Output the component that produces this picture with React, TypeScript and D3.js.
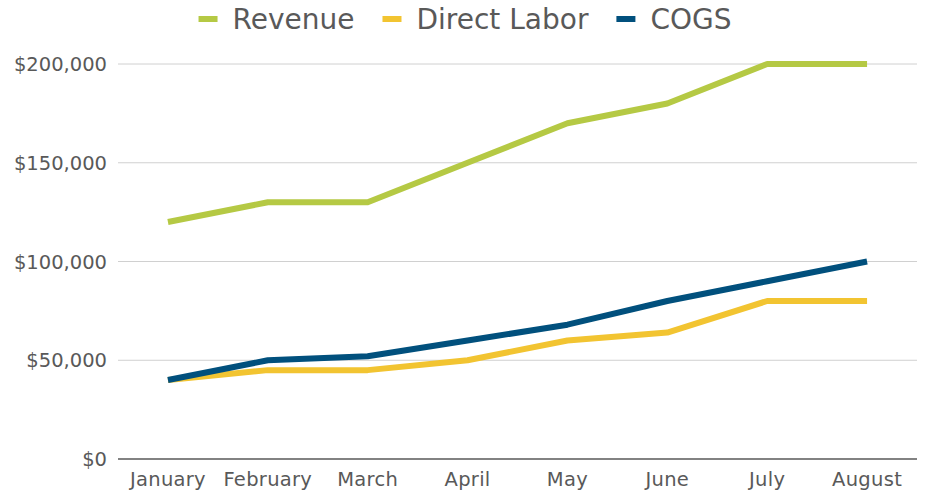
import React, { useEffect, useRef } from 'react';
import * as d3 from 'd3';

const months = ['January', 'February', 'March', 'April', 'May', 'June', 'July', 'August'];
const revenue = [120000, 130000, 130000, 150000, 170000, 180000, 200000, 200000];
const directLabor = [40000, 45000, 45000, 50000, 60000, 64000, 80000, 80000];
const cogs = [40000, 50000, 52000, 60000, 68000, 80000, 90000, 100000];
const yTicks = [0, 50000, 100000, 150000, 200000];

const seriesList = [
    { name: 'Revenue', values: revenue, color: '#b5c944' },
    { name: 'Direct Labor', values: directLabor, color: '#f2c431' },
    { name: 'COGS', values: cogs, color: '#01507d' },
];

const W = 928;
const H = 493;

const App = () => {
    const svgRef = useRef<SVGSVGElement>(null);

    useEffect(() => {
        if (!svgRef.current) return;
        const svg = d3.select(svgRef.current);
        svg.selectAll('*').remove();

        const font = '"DejaVu Sans", Verdana, sans-serif';
        const margin = { top: 64, right: 11, bottom: 34, left: 118 };
        const chartW = W - margin.left - margin.right;
        const chartH = H - margin.top - margin.bottom;

        const x = d3.scaleBand().domain(months).range([0, chartW]);
        const y = d3.scaleLinear().domain([0, 200000]).range([chartH, 0]);

        const g = svg.append('g').attr('transform', `translate(${margin.left},${margin.top})`);

        // grid
        g.selectAll('.grid')
            .data(yTicks)
            .enter()
            .append('line')
            .attr('x1', 0)
            .attr('x2', chartW)
            .attr('y1', d => y(d))
            .attr('y2', d => y(d))
            .attr('stroke', d => (d === 0 ? '#595959' : '#d0d0d0'))
            .attr('stroke-width', d => (d === 0 ? 1.5 : 1));

        // y labels
        const fmt = d3.format('$,.0f');
        g.selectAll('.ylab')
            .data(yTicks)
            .enter()
            .append('text')
            .attr('x', -11)
            .attr('y', d => y(d))
            .attr('dy', '0.36em')
            .attr('text-anchor', 'end')
            .attr('fill', '#595959')
            .attr('font-family', font)
            .attr('font-size', 19.5)
            .text(d => fmt(d));

        // x labels
        g.selectAll('.xlab')
            .data(months)
            .enter()
            .append('text')
            .attr('x', d => (x(d) || 0) + x.bandwidth() / 2)
            .attr('y', chartH + 27)
            .attr('text-anchor', 'middle')
            .attr('fill', '#595959')
            .attr('font-family', font)
            .attr('font-size', 19.5)
            .attr('letter-spacing', 0.3)
            .text(d => d);

        // lines
        const line = d3.line<number>()
            .x((_, i) => (x(months[i]) || 0) + x.bandwidth() / 2)
            .y(d => y(d));

        seriesList.forEach(s => {
            g.append('path')
                .datum(s.values)
                .attr('fill', 'none')
                .attr('stroke', s.color)
                .attr('stroke-width', 6)
                .attr('stroke-linejoin', 'round')
                .attr('stroke-linecap', 'butt')
                .attr('d', line);
        });

        // legend
        const legend = svg.append('g');
        const gapAfter = 28;
        let cursor = 0;
        seriesList.forEach(s => {
            const item = legend.append('g').attr('transform', `translate(${cursor},0)`);
            item.append('rect')
                .attr('x', 0)
                .attr('y', -3)
                .attr('width', 19)
                .attr('height', 6)
                .attr('fill', s.color);
            const t = item.append('text')
                .attr('x', 34)
                .attr('y', 0)
                .attr('dy', '0.36em')
                .attr('fill', '#595959')
                .attr('font-family', font)
                .attr('font-size', 28)
                .text(s.name);
            const tw = (t.node() as SVGTextElement).getComputedTextLength();
            cursor += 34 + tw + gapAfter;
        });
        const total = cursor - gapAfter;
        legend.attr('transform', `translate(${465 - total / 2},19)`);
    }, []);

    return (
        <svg
            ref={svgRef}
            width={W}
            height={H}
            style={{ position: 'absolute', left: 0, top: 0, background: '#fff' }}
        />
    );
};

export default App;
